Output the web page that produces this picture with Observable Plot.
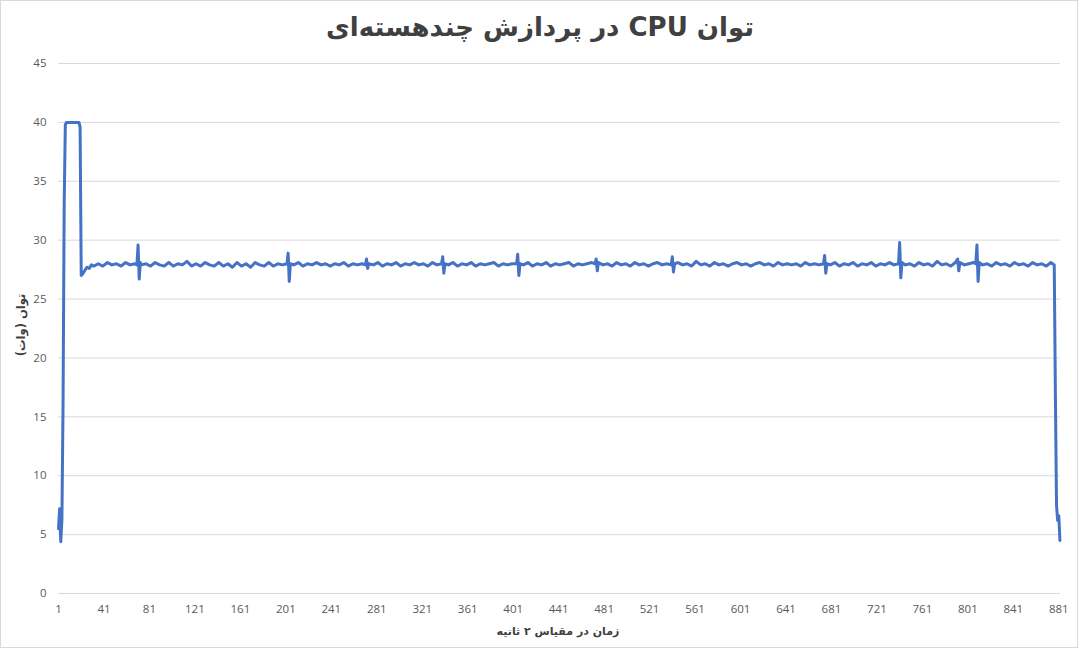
<!DOCTYPE html>
<html>
<head>
<meta charset="utf-8">
<script src="https://cdn.jsdelivr.net/npm/d3@7"></script>
<script src="https://cdn.jsdelivr.net/npm/@observablehq/plot@0.6"></script>
<style>
  html, body { margin: 0; padding: 0; background: #fff; }
  #wrap { position: relative; width: 1080px; height: 649px; overflow: hidden; }
  #frame { position: absolute; left: 0; top: 0; width: 1076px; height: 646px; border: 1px solid #d9d9d9; }
  #chart { position: absolute; left: 0; top: 0; }
  .title { position: absolute; left: 0; width: 1080px; top: 12px; text-align: center;
           font-family: "DejaVu Sans", sans-serif; font-weight: bold; font-size: 26px; color: #404040; }
  .ylab { position: absolute; left: 21px; top: 325px; transform: translate(-50%, -50%) rotate(-90deg);
          font-family: "DejaVu Sans", sans-serif; font-weight: bold; font-size: 11.5px; color: #404040; white-space: nowrap; }
  .xlab { position: absolute; left: 558px; top: 631px; transform: translate(-50%, -50%);
          font-family: "DejaVu Sans", sans-serif; font-weight: bold; font-size: 11px; color: #404040; white-space: nowrap; }
</style>
</head>
<body>
<div id="wrap">
  <div id="frame"></div>
  <div id="chart"></div>
  <div class="title" dir="rtl">توان CPU در پردازش چندهسته‌ای</div>
  <div class="ylab" dir="rtl">توان (وات)</div>
  <div class="xlab" dir="rtl">زمان در مقیاس ۲ ثانیه</div>
</div>
<script>
const xTicks = [1, 41, 81, 121, 161, 201, 241, 281, 321, 361, 401, 441, 481, 521, 561, 601, 641, 681, 721, 761, 801, 841, 881];
const yTicks = [0, 5, 10, 15, 20, 25, 30, 35, 40, 45];

// sample index (2-second steps)
const time = [
  1, 2, 3, 4, 5, 6, 7, 8, 12, 16,
  19, 20, 21, 22, 24, 26, 28, 30, 32, 36,
  40, 44, 48, 52, 56, 60, 64, 68, 70, 71,
  72, 73, 74, 78, 82, 86, 90, 94, 98, 102,
  106, 110, 114, 118, 122, 126, 130, 134, 138, 142,
  146, 150, 154, 158, 162, 166, 170, 174, 178, 182,
  186, 190, 194, 198, 202, 203, 204, 205, 208, 212,
  216, 220, 224, 228, 232, 236, 240, 244, 248, 252,
  256, 260, 264, 268, 271, 272, 273, 274, 278, 282,
  286, 290, 294, 298, 302, 306, 310, 314, 318, 322,
  326, 330, 334, 338, 339, 340, 341, 344, 348, 352,
  356, 360, 364, 368, 372, 376, 380, 384, 388, 392,
  396, 400, 404, 405, 406, 407, 410, 414, 418, 422,
  426, 430, 434, 438, 442, 446, 450, 454, 458, 462,
  466, 470, 473, 474, 475, 476, 480, 484, 488, 492,
  496, 500, 504, 508, 512, 516, 520, 524, 528, 532,
  536, 540, 541, 542, 543, 546, 550, 554, 558, 562,
  566, 570, 574, 578, 582, 586, 590, 594, 598, 602,
  606, 610, 614, 618, 622, 626, 630, 634, 638, 642,
  646, 650, 654, 658, 662, 666, 670, 674, 675, 676,
  677, 680, 684, 688, 692, 696, 700, 704, 708, 712,
  716, 720, 724, 728, 732, 736, 740, 741, 742, 743,
  746, 750, 754, 758, 762, 766, 770, 774, 778, 782,
  786, 790, 792, 793, 794, 798, 802, 806, 808, 809,
  810, 811, 814, 818, 822, 826, 830, 834, 838, 842,
  846, 850, 854, 858, 862, 866, 870, 874, 877, 878,
  879, 880, 881, 882
];
// CPU power in watts
const watts = [
  5.5, 7.2, 4.4, 6.3, 16, 33, 39.8, 40, 40, 40,
  40, 39.6, 27.0, 27.1, 27.4, 27.7, 27.6, 27.9, 27.8, 28.0,
  27.8, 28.1, 27.9, 28.0, 27.8, 28.1, 27.9, 28.0, 27.9, 29.6,
  26.7, 28.1, 27.9, 28.0, 27.8, 28.1, 27.9, 27.8, 28.1, 27.8,
  28.0, 27.9, 28.2, 27.8, 28.0, 27.8, 28.1, 27.9, 27.8, 28.1,
  27.8, 28.0, 27.7, 28.1, 27.8, 28.0, 27.7, 28.1, 27.9, 27.8,
  28.1, 27.8, 28.0, 27.9, 28.0, 28.9, 26.5, 28.0, 27.9, 28.1,
  27.8, 28.0, 27.9, 28.1, 27.9, 28.0, 27.8, 28.0, 27.9, 28.1,
  27.8, 28.0, 27.9, 28.0, 27.9, 28.4, 27.6, 28.0, 27.9, 28.1,
  27.8, 28.0, 27.9, 28.1, 27.8, 28.0, 27.9, 28.1, 27.9, 28.0,
  27.8, 28.1, 27.9, 28.0, 28.6, 27.2, 28.0, 27.9, 28.1, 27.8,
  28.0, 27.9, 28.1, 27.8, 28.0, 27.9, 28.0, 28.1, 27.8, 28.0,
  27.9, 28.0, 28.0, 28.8, 27.0, 28.0, 27.9, 28.1, 27.8, 28.0,
  27.9, 28.1, 27.8, 28.0, 27.9, 28.0, 28.1, 27.8, 28.0, 27.9,
  28.0, 28.1, 28.0, 28.4, 27.4, 28.1, 27.9, 28.0, 27.8, 28.1,
  27.9, 28.0, 27.8, 28.1, 27.9, 28.0, 27.8, 28.0, 28.1, 27.9,
  28.0, 27.9, 28.6, 27.3, 28.0, 28.1, 27.9, 28.0, 27.8, 28.2,
  27.9, 28.0, 27.8, 28.1, 27.9, 28.0, 27.8, 28.0, 28.1, 27.9,
  28.0, 27.8, 28.0, 28.1, 27.9, 28.0, 27.8, 28.1, 27.9, 28.0,
  27.9, 28.0, 27.8, 28.1, 27.9, 28.0, 27.9, 28.0, 28.7, 27.2,
  28.0, 27.9, 28.1, 27.8, 28.0, 27.9, 28.1, 27.8, 28.0, 27.9,
  28.1, 27.8, 28.0, 27.9, 28.1, 27.9, 28.0, 29.8, 26.8, 28.1,
  27.9, 28.0, 27.8, 28.1, 27.9, 28.0, 27.8, 28.2, 27.9, 28.0,
  27.8, 28.1, 28.4, 27.4, 28.1, 27.9, 28.0, 28.1, 28.0, 29.6,
  26.5, 28.1, 27.9, 28.0, 27.8, 28.1, 27.9, 28.0, 27.8, 28.1,
  27.9, 28.0, 27.8, 28.1, 27.9, 28.0, 27.8, 28.1, 27.9, 17,
  7.5, 6.2, 6.6, 4.5
];

const rows = time.map((t, i) => ({t, w: watts[i]}));

const chart = Plot.plot({
  width: 1080,
  height: 649,
  marginLeft: 58,
  marginRight: 20,
  marginTop: 63,
  marginBottom: 56,
  style: {fontFamily: "'Open Sans', sans-serif", fontSize: "11.5px", color: "#595959", background: "transparent"},
  x: {domain: [1, 882.5], label: null},
  y: {domain: [0, 45], label: null},
  marks: [
    Plot.gridY(yTicks, {stroke: "#d9d9d9", strokeOpacity: 1}),
    Plot.axisX(xTicks, {tickSize: 0, tickPadding: 11, label: null, tickFormat: d => String(d)}),
    Plot.axisY(yTicks, {tickSize: 0, tickPadding: 12, label: null}),
    Plot.line(rows, {x: "t", y: "w", stroke: "#4472C4", strokeWidth: 3, strokeLinejoin: "round", strokeLinecap: "round"})
  ]
});
document.getElementById("chart").appendChild(chart);
</script>
</body>
</html>
